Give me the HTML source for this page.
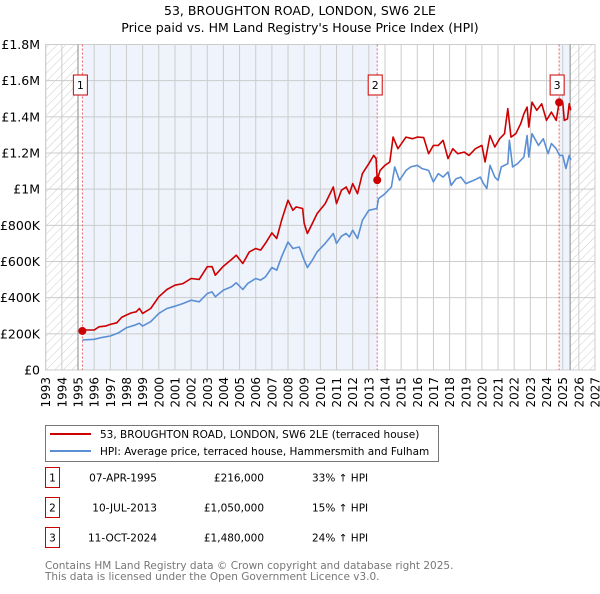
<!DOCTYPE html>
<html><head><meta charset="utf-8"><style>
body{margin:0;background:#fff;font-family:"DejaVu Sans","Liberation Sans",sans-serif;}
svg text{font-family:"DejaVu Sans","Liberation Sans",sans-serif;}
</style></head><body>
<svg id="chart" width="600" height="590" xmlns="http://www.w3.org/2000/svg">
<defs>
<pattern id="hatch" width="6" height="6" patternUnits="userSpaceOnUse" patternTransform="rotate(45)">
<line x1="0" y1="0" x2="0" y2="6" stroke="#ccc" stroke-width="1"/></pattern>
</defs>
<text x="300" y="15" text-anchor="middle" font-size="12.5">53, BROUGHTON ROAD, LONDON, SW6 2LE</text>
<text x="300" y="32" text-anchor="middle" font-size="12.5">Price paid vs. HM Land Registry's House Price Index (HPI)</text>
<g id="plot"></g>
<g>
<rect x="45.5" y="425.5" width="393" height="36" fill="#fff" stroke="#777"/>
<line x1="50" y1="434" x2="91" y2="434" stroke="#cc0000" stroke-width="2"/>
<text x="100" y="438" font-size="10.5">53, BROUGHTON ROAD, LONDON, SW6 2LE (terraced house)</text>
<line x1="50" y1="451" x2="91" y2="451" stroke="#5b8fd4" stroke-width="2"/>
<text x="100" y="455" font-size="10.5">HPI: Average price, terraced house, Hammersmith and Fulham</text>
</g>
<g id="table" font-size="10.5"></g>
<text x="45" y="569" font-size="10.5" fill="#777">Contains HM Land Registry data © Crown copyright and database right 2025.</text>
<text x="45" y="580" font-size="10.5" fill="#777">This data is licensed under the Open Government Licence v3.0.</text>
</svg>
<script>
const hpiYears=[1995.27,1996,1996.5,1997,1997.5,1998,1998.5,1998.8,1999,1999.5,2000,2000.5,2001,2001.5,2002,2002.5,2003,2003.3,2003.5,2004,2004.5,2004.8,2005.2,2005.5,2006,2006.3,2006.6,2007,2007.3,2007.6,2008,2008.3,2008.7,2009,2009.2,2009.5,2009.8,2010.3,2010.8,2011,2011.3,2011.6,2011.8,2012,2012.3,2012.6,2013,2013.5,2013.6,2014,2014.4,2014.6,2014.9,2015.3,2015.6,2016,2016.3,2016.7,2017,2017.3,2017.6,2017.9,2018.1,2018.4,2018.7,2019,2019.5,2019.9,2020.1,2020.3,2020.5,2020.8,2021,2021.2,2021.6,2021.7,2021.9,2022.2,2022.6,2022.8,2022.9,2023.1,2023.5,2023.8,2024.1,2024.3,2024.6,2024.8,2025,2025.2,2025.4,2025.5];
const hpiValues=[166,170,180,188,205,234,248,258,243,267,313,340,353,368,386,377,423,432,405,442,460,482,445,478,506,497,515,567,552,626,708,672,680,607,567,607,653,700,755,700,740,755,736,773,727,828,883,893,948,975,1012,1123,1049,1104,1123,1132,1114,1104,1040,1086,1067,1095,1021,1058,1067,1031,1049,1067,1031,1003,1132,1067,1049,1123,1141,1270,1123,1141,1178,1297,1178,1307,1242,1279,1196,1252,1224,1187,1187,1114,1187,1160];
const priceYears=[1995.27,1995.5,1996,1996.3,1996.7,1997,1997.4,1997.7,1998,1998.3,1998.6,1998.8,1999,1999.5,2000,2000.5,2001,2001.5,2002,2002.5,2003,2003.3,2003.5,2004,2004.5,2004.8,2005.2,2005.6,2006,2006.3,2006.6,2007,2007.3,2007.6,2008,2008.3,2008.5,2008.9,2009,2009.2,2009.5,2009.8,2010.3,2010.8,2011,2011.3,2011.6,2011.8,2012,2012.3,2012.6,2013,2013.3,2013.45,2013.52,2013.7,2014,2014.3,2014.5,2014.8,2015.3,2015.7,2016,2016.4,2016.7,2017,2017.3,2017.6,2017.9,2018.2,2018.5,2018.9,2019.2,2019.6,2020,2020.2,2020.5,2020.8,2021.1,2021.4,2021.6,2021.8,2022.1,2022.4,2022.6,2022.8,2022.9,2023.1,2023.4,2023.7,2024,2024.3,2024.6,2024.78,2025,2025.1,2025.3,2025.4,2025.5];
const priceValues=[216,221,221,239,243,252,261,291,304,316,322,340,313,340,405,445,469,478,506,501,571,571,524,574,611,635,589,653,672,663,700,758,727,828,939,883,902,893,810,755,810,865,920,1012,920,994,1012,975,1031,975,1086,1141,1187,1169,1050,1104,1132,1150,1288,1224,1288,1279,1288,1285,1196,1242,1242,1270,1169,1224,1196,1205,1187,1224,1242,1150,1297,1233,1279,1307,1445,1288,1307,1362,1417,1454,1343,1481,1436,1472,1380,1426,1380,1480,1482,1380,1389,1472,1436];
const saleLabels=["1","2","3"];
const saleYears=[1995.27,2013.52,2024.78];
const saleValues=[216,1050,1480];
const saleDates=["07-APR-1995","10-JUL-2013","11-OCT-2024"];
const salePrices=["£216,000","£1,050,000","£1,480,000"];
const saleHpi=["33% ↑ HPI","15% ↑ HPI","24% ↑ HPI"];
const yTicks=[0,200,400,600,800,1000,1200,1400,1600,1800];
const yTickLabels=["£0","£200K","£400K","£600K","£800K","£1M","£1.2M","£1.4M","£1.6M","£1.8M"];
const xTicks=[1993,1994,1995,1996,1997,1998,1999,2000,2001,2002,2003,2004,2005,2006,2007,2008,2009,2010,2011,2012,2013,2014,2015,2016,2017,2018,2019,2020,2021,2022,2023,2024,2025,2026,2027];
const dataEndYear=2025.46;

const L=45.7,R=595,T=44.5,B=370;
const X=y=>L+(y-1993)/(2027-1993)*(R-L);
const Y=v=>B-v/1800*(B-T);
const NS="http://www.w3.org/2000/svg";
const plot=document.getElementById('plot');
function mk(tag,attrs,parent){const e=document.createElementNS(NS,tag);for(const k in attrs)e.setAttribute(k,attrs[k]);(parent||plot).appendChild(e);return e;}

let r;
r=mk('rect',{x:L,y:T,width:R-L,height:B-T,fill:'#fff'});


r=mk('rect',{x:L,y:T,width:X(1995)-L,height:B-T,fill:'url(#hatch)'});


r=mk('rect',{x:X(dataEndYear),y:T,width:R-X(dataEndYear),height:B-T,fill:'url(#hatch)'});


r=mk('rect',{x:X(saleYears[0]),y:T,width:X(saleYears[1])-X(saleYears[0]),height:B-T,fill:'#eef3fc'});


r=mk('rect',{x:X(saleYears[2]),y:T,width:X(dataEndYear)-X(saleYears[2]),height:B-T,fill:'#eef3fc'});



xTicks.forEach(t=>{
 const l=mk('line',{x1:X(t),x2:X(t),y1:T,y2:B,stroke:'#ccc','stroke-width':1});
 
 
 const tx=mk('text',{x:0,y:0,'font-size':12,'text-anchor':'end',transform:`translate(${X(t)+4.5},${B+7}) rotate(-90)`});
 tx.textContent=t;
 
 
});
yTicks.forEach((t,i)=>{
 const l=mk('line',{x1:L,x2:R,y1:Y(t),y2:Y(t),stroke:'#ccc','stroke-width':1});
 
 
 const tx=mk('text',{x:40,y:Y(t)+4.5,'font-size':12.5,'text-anchor':'end'});
 tx.textContent=yTickLabels[i];
 
 
});
r=mk('rect',{x:L,y:T,width:R-L,height:B-T,fill:'none',stroke:'#ccc'});


r=mk('line',{x1:X(1995),x2:X(1995),y1:T,y2:B,stroke:'#888'});


r=mk('line',{x1:X(dataEndYear),x2:X(dataEndYear),y1:T,y2:B,stroke:'#888'});



saleYears.forEach((s,i)=>{
 const l=mk('line',{x1:X(s),x2:X(s),y1:T,y2:B,stroke:'#f06060','stroke-dasharray':'2,2'});
 
 
 const g=mk('g',{});
 
 
 mk('rect',{x:X(s)-9,y:75,width:14,height:20,fill:'#fff',stroke:'#cc0000'},g);
 const t=mk('text',{x:X(s)-2,y:89,'font-size':11,'text-anchor':'middle'},g);
 t.textContent=saleLabels[i];
});

function path(xs,vs,color,name){
 const d=xs.map((x,i)=>(i?'L':'M')+X(x).toFixed(1)+','+Y(vs[i]).toFixed(1)).join('');
 const p=mk('path',{d,fill:'none',stroke:color,'stroke-width':1.6,'stroke-linejoin':'round'});
 
 
}
path(hpiYears,hpiValues,'#5b8fd4','hpi-line');
path(priceYears,priceValues,'#cc0000','price-paid-line');
saleYears.forEach((s,i)=>{
 const c=mk('circle',{cx:X(s),cy:Y(saleValues[i]),r:4,fill:'#cc0000'});
 
 
});

const table=document.getElementById('table');
saleLabels.forEach((lab,i)=>{
 const y=483+i*30;
 const g=mk('g',{},table);
 
 
 mk('rect',{x:45.5,y:y-15.5,width:14,height:20,fill:'#fff',stroke:'#cc0000'},g);
 let t=mk('text',{x:52.5,y:y-1.5,'text-anchor':'middle'},g);t.textContent=lab;
 t=mk('text',{x:157,y:y-1.5,'text-anchor':'end'},g);t.textContent=saleDates[i];
 t=mk('text',{x:264,y:y-1.5,'text-anchor':'end'},g);t.textContent=salePrices[i];
 t=mk('text',{x:312,y:y-1.5},g);t.textContent=saleHpi[i];
});
</script>
</body></html>
